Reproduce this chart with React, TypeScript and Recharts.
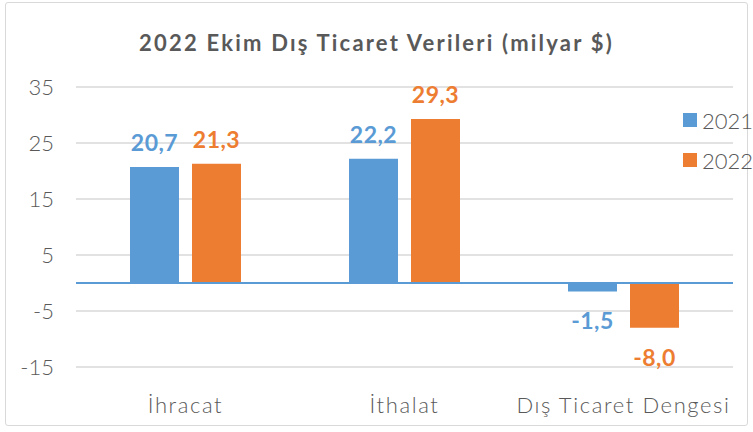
import { BarChart, Bar, XAxis, YAxis, CartesianGrid, ReferenceLine, LabelList } from "recharts";

const categories = ["İhracat", "İthalat", "Dış Ticaret Dengesi"];
const values2021 = [20.7, 22.2, -1.5];
const values2022 = [21.3, 29.3, -8.0];
const yTicks = [-15, -5, 5, 15, 25, 35];
const seriesNames = ["2021", "2022"];

const BLUE = "#5B9BD5";
const ORANGE = "#ED7D31";
const GRAY = "#595959";
const FONT = "Lato, 'Open Sans', sans-serif";

const data = categories.map((name, i) => ({
  name,
  y2021: values2021[i],
  y2022: values2022[i],
}));

const fmt = (v: number) => v.toFixed(1).replace(".", ",");

function makeLabel(color: string) {
  return (props: any) => {
    const { x, y, width, height, value } = props;
    const top = Math.min(y, y + height);
    const bottom = Math.max(y, y + height);
    const ty = value >= 0 ? top - 16 : bottom + 38;
    return (
      <text
        x={x + width / 2}
        y={ty}
        textAnchor="middle"
        fill={color}
        fontFamily={FONT}
        fontWeight={700}
        fontSize={23}
        letterSpacing={0.5}
      >
        {fmt(value)}
      </text>
    );
  };
}

function LegendBox() {
  const colors = [BLUE, ORANGE];
  return (
    <div
      style={{
        position: "absolute",
        left: 683,
        top: 100,
        fontFamily: FONT,
        fontWeight: 300,
        fontSize: 22,
        color: GRAY,
      }}
    >
      {seriesNames.map((label, i) => (
        <div key={label} style={{ display: "flex", alignItems: "center", height: 40 }}>
          <span style={{ width: 14, height: 14, background: colors[i], marginRight: 5, display: "inline-block" }} />
          {label}
        </div>
      ))}
    </div>
  );
}

export default function App() {
  return (
    <div
      style={{
        position: "absolute",
        left: 0,
        top: 0,
        width: 753,
        height: 432,
        background: "#fff",
      }}
    >
      <div
        style={{
          position: "absolute",
          left: 5,
          top: 2,
          width: 743,
          height: 424,
          border: "1.5px solid #D9D9D9",
          borderRadius: 3,
          boxSizing: "border-box",
        }}
      />
      <div
        style={{
          position: "absolute",
          top: 29,
          left: 0,
          width: 753,
          textAlign: "center",
          fontFamily: FONT,
          fontWeight: 700,
          fontSize: 22,
          letterSpacing: 2.2,
          color: GRAY,
        }}
      >
        2022 Ekim Dış Ticaret Verileri (milyar $)
      </div>
      <BarChart
        width={753}
        height={432}
        data={data}
        margin={{ top: 87, right: 20, bottom: 35, left: 0 }}
        barCategoryGap={54}
        barGap={13}
        style={{ position: "absolute", left: 0, top: 0 }}
      >
        <CartesianGrid vertical={false} stroke="#D9D9D9" strokeWidth={1.5} />
        <XAxis
          dataKey="name"
          axisLine={false}
          tickLine={false}
          height={30}
          tick={{ fill: GRAY, fontFamily: FONT, fontWeight: 300, fontSize: 22, letterSpacing: 1.6 }}
          dy={22}
        />
        <YAxis
          width={76}
          domain={[-15, 35]}
          ticks={yTicks}
          axisLine={false}
          tickLine={false}
          tick={{ fill: GRAY, fontFamily: FONT, fontWeight: 300, fontSize: 22 }}
          dx={-14}
        />
        <ReferenceLine y={0} stroke={BLUE} strokeWidth={2} />
        <Bar dataKey="y2021" name={seriesNames[0]} fill={BLUE} isAnimationActive={false}>
          <LabelList dataKey="y2021" content={makeLabel(BLUE)} />
        </Bar>
        <Bar dataKey="y2022" name={seriesNames[1]} fill={ORANGE} isAnimationActive={false}>
          <LabelList dataKey="y2022" content={makeLabel(ORANGE)} />
        </Bar>
      </BarChart>
      <LegendBox />
    </div>
  );
}
